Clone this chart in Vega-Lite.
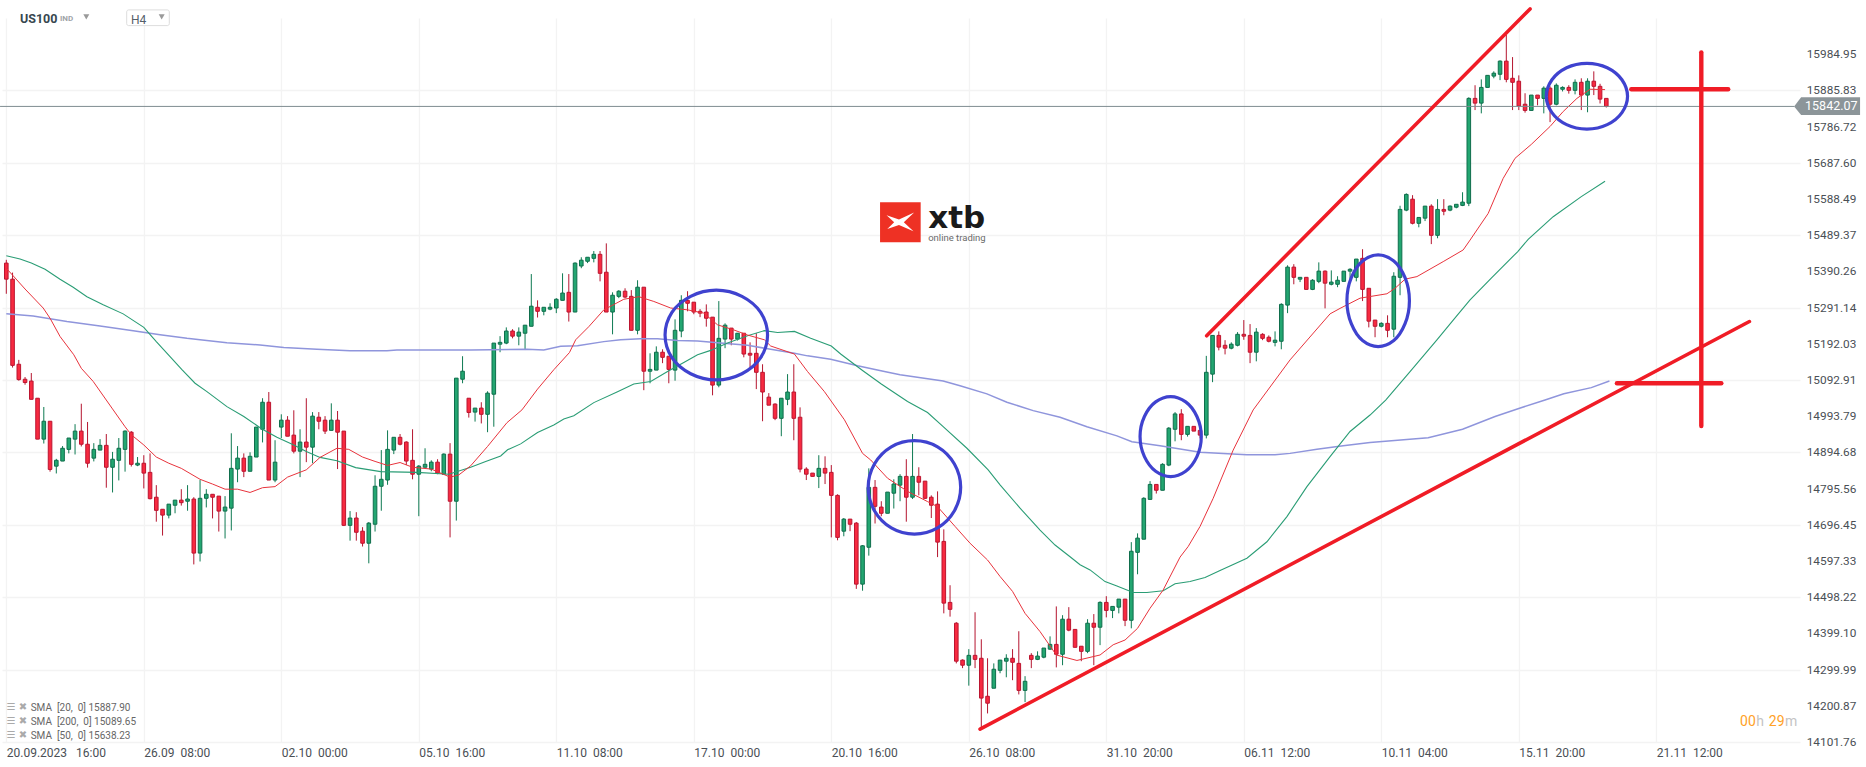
{"$schema":"https://vega.github.io/schema/vega-lite/v6.json","autosize":"none","padding":{"left":2,"top":18,"right":66,"bottom":25},"width":1798,"height":724,"background":"white","config":{"view":{"stroke":null},"font":"Roboto"},
"datasets":{
"candles":[
{"i":0,"o":15413,"c":15369,"h":15422,"l":15329},{"i":1,"o":15369,"c":15133,"h":15387,"l":15127},{"i":2,"o":15136,"c":15094,"h":15148,"l":15091},{"i":3,"o":15095,"c":15086,"h":15101,"l":15080},{"i":4,"o":15090,"c":15040,"h":15112,"l":15040},{"i":5,"o":15043,"c":14931,"h":15043,"l":14931},{"i":6,"o":14931,"c":14980,"h":15019,"l":14919},{"i":7,"o":14980,"c":14848,"h":14980,"l":14842},{"i":8,"o":14857,"c":14873,"h":14877,"l":14837},{"i":9,"o":14871,"c":14906,"h":14912,"l":14871},
{"i":10,"o":14903,"c":14934,"h":14934,"l":14892},{"i":11,"o":14931,"c":14953,"h":14972,"l":14889},{"i":12,"o":14953,"c":14917,"h":15028,"l":14911},{"i":13,"o":14917,"c":14865,"h":14978,"l":14853},{"i":14,"o":14879,"c":14903,"h":14920,"l":14870},{"i":15,"o":14901,"c":14914,"h":14931,"l":14901},{"i":16,"o":14914,"c":14854,"h":14945,"l":14798},{"i":17,"o":14854,"c":14876,"h":14896,"l":14785},{"i":18,"o":14873,"c":14906,"h":14934,"l":14818},{"i":19,"o":14903,"c":14953,"h":14955,"l":14842},
{"i":20,"o":14950,"c":14862,"h":14953,"l":14856},{"i":21,"o":14860,"c":14865,"h":14882,"l":14857},{"i":22,"o":14865,"c":14838,"h":14887,"l":14796},{"i":23,"o":14840,"c":14768,"h":14892,"l":14766},{"i":24,"o":14772,"c":14736,"h":14805,"l":14705},{"i":25,"o":14739,"c":14723,"h":14739,"l":14667},{"i":26,"o":14723,"c":14753,"h":14753,"l":14714},{"i":27,"o":14750,"c":14764,"h":14764,"l":14728},{"i":28,"o":14764,"c":14757,"h":14794,"l":14749},{"i":29,"o":14761,"c":14767,"h":14805,"l":14735},
{"i":30,"o":14767,"c":14619,"h":14772,"l":14588},{"i":31,"o":14619,"c":14769,"h":14819,"l":14596},{"i":32,"o":14769,"c":14780,"h":14794,"l":14744},{"i":33,"o":14780,"c":14772,"h":14780,"l":14714},{"i":34,"o":14775,"c":14734,"h":14775,"l":14678},{"i":35,"o":14734,"c":14745,"h":14775,"l":14659},{"i":36,"o":14742,"c":14851,"h":14947,"l":14681},{"i":37,"o":14849,"c":14879,"h":14912,"l":14813},{"i":38,"o":14879,"c":14843,"h":14892,"l":14827},{"i":39,"o":14843,"c":14884,"h":14895,"l":14843},
{"i":40,"o":14882,"c":14964,"h":14964,"l":14882},{"i":41,"o":14958,"c":15032,"h":15043,"l":14922},{"i":42,"o":15032,"c":14819,"h":15060,"l":14819},{"i":43,"o":14819,"c":14868,"h":14928,"l":14813},{"i":44,"o":14964,"c":14983,"h":14999,"l":14934},{"i":45,"o":14983,"c":14939,"h":14994,"l":14939},{"i":46,"o":14942,"c":14898,"h":15010,"l":14892},{"i":47,"o":14898,"c":14923,"h":14958,"l":14827},{"i":48,"o":14923,"c":14909,"h":15043,"l":14868},{"i":49,"o":14909,"c":14994,"h":15005,"l":14865},
{"i":50,"o":14991,"c":14980,"h":15005,"l":14958},{"i":51,"o":14983,"c":14953,"h":14994,"l":14945},{"i":52,"o":14955,"c":14983,"h":15029,"l":14955},{"i":53,"o":14983,"c":14950,"h":15008,"l":14849},{"i":54,"o":14953,"c":14695,"h":14953,"l":14693},{"i":55,"o":14695,"c":14715,"h":14734,"l":14653},{"i":56,"o":14715,"c":14676,"h":14731,"l":14653},{"i":57,"o":14679,"c":14646,"h":14690,"l":14637},{"i":58,"o":14646,"c":14701,"h":14704,"l":14591},{"i":59,"o":14698,"c":14802,"h":14832,"l":14678},
{"i":60,"o":14802,"c":14821,"h":14901,"l":14735},{"i":61,"o":14819,"c":14903,"h":14955,"l":14806},{"i":62,"o":14901,"c":14936,"h":14936,"l":14890},{"i":63,"o":14936,"c":14917,"h":14945,"l":14914},{"i":64,"o":14923,"c":14871,"h":14925,"l":14860},{"i":65,"o":14873,"c":14835,"h":14958,"l":14821},{"i":66,"o":14835,"c":14857,"h":14860,"l":14720},{"i":67,"o":14854,"c":14862,"h":14906,"l":14854},{"i":68,"o":14849,"c":14868,"h":14873,"l":14843},{"i":69,"o":14868,"c":14838,"h":14876,"l":14835},
{"i":70,"o":14835,"c":14890,"h":14892,"l":14835},{"i":71,"o":14890,"c":14761,"h":14920,"l":14662},{"i":72,"o":14761,"c":15098,"h":15098,"l":14708},{"i":73,"o":15095,"c":15117,"h":15158,"l":15084},{"i":74,"o":15043,"c":15004,"h":15043,"l":14990},{"i":75,"o":15005,"c":15016,"h":15016,"l":14979},{"i":76,"o":15016,"c":14999,"h":15032,"l":14974},{"i":77,"o":14999,"c":15057,"h":15062,"l":14950},{"i":78,"o":15054,"c":15194,"h":15194,"l":14965},{"i":79,"o":15191,"c":15196,"h":15213,"l":15169},
{"i":80,"o":15194,"c":15227,"h":15237,"l":15191},{"i":81,"o":15227,"c":15213,"h":15232,"l":15207},{"i":82,"o":15213,"c":15224,"h":15237,"l":15188},{"i":83,"o":15221,"c":15243,"h":15243,"l":15175},{"i":84,"o":15240,"c":15295,"h":15383,"l":15240},{"i":85,"o":15292,"c":15281,"h":15311,"l":15264},{"i":86,"o":15281,"c":15292,"h":15292,"l":15270},{"i":87,"o":15287,"c":15292,"h":15303,"l":15284},{"i":88,"o":15290,"c":15314,"h":15317,"l":15276},{"i":89,"o":15311,"c":15331,"h":15385,"l":15311},
{"i":90,"o":15333,"c":15279,"h":15383,"l":15253},{"i":91,"o":15279,"c":15413,"h":15415,"l":15279},{"i":92,"o":15405,"c":15421,"h":15429,"l":15399},{"i":93,"o":15418,"c":15429,"h":15429,"l":15413},{"i":94,"o":15426,"c":15437,"h":15446,"l":15415},{"i":95,"o":15437,"c":15385,"h":15446,"l":15363},{"i":96,"o":15388,"c":15279,"h":15467,"l":15279},{"i":97,"o":15279,"c":15325,"h":15333,"l":15218},{"i":98,"o":15322,"c":15336,"h":15339,"l":15317},{"i":99,"o":15336,"c":15320,"h":15344,"l":15317},
{"i":100,"o":15322,"c":15229,"h":15339,"l":15229},{"i":101,"o":15229,"c":15347,"h":15366,"l":15218},{"i":102,"o":15347,"c":15117,"h":15347,"l":15065},{"i":103,"o":15117,"c":15122,"h":15166,"l":15084},{"i":104,"o":15120,"c":15169,"h":15185,"l":15120},{"i":105,"o":15169,"c":15155,"h":15177,"l":15139},{"i":106,"o":15158,"c":15122,"h":15158,"l":15084},{"i":107,"o":15120,"c":15229,"h":15259,"l":15091},{"i":108,"o":15227,"c":15311,"h":15325,"l":15210},{"i":109,"o":15311,"c":15303,"h":15336,"l":15281},
{"i":110,"o":15306,"c":15279,"h":15306,"l":15273},{"i":111,"o":15281,"c":15276,"h":15287,"l":15265},{"i":112,"o":15279,"c":15262,"h":15300,"l":15239},{"i":113,"o":15265,"c":15079,"h":15265,"l":15051},{"i":114,"o":15079,"c":15207,"h":15309,"l":15073},{"i":115,"o":15205,"c":15243,"h":15248,"l":15180},{"i":116,"o":15235,"c":15205,"h":15235,"l":15188},{"i":117,"o":15205,"c":15221,"h":15221,"l":15201},{"i":118,"o":15221,"c":15164,"h":15221,"l":15155},{"i":119,"o":15166,"c":15161,"h":15196,"l":15128},
{"i":120,"o":15166,"c":15114,"h":15221,"l":15068},{"i":121,"o":15114,"c":15060,"h":15136,"l":14980},{"i":122,"o":15046,"c":15024,"h":15057,"l":15024},{"i":123,"o":15027,"c":14988,"h":15029,"l":14983},{"i":124,"o":14988,"c":15043,"h":15043,"l":14939},{"i":125,"o":15040,"c":15060,"h":15109,"l":15024},{"i":126,"o":15060,"c":14988,"h":15136,"l":14928},{"i":127,"o":14991,"c":14849,"h":15018,"l":14840},{"i":128,"o":14849,"c":14835,"h":14854,"l":14819},{"i":129,"o":14838,"c":14829,"h":14838,"l":14829},
{"i":130,"o":14829,"c":14851,"h":14887,"l":14797},{"i":131,"o":14851,"c":14838,"h":14884,"l":14808},{"i":132,"o":14840,"c":14777,"h":14860,"l":14662},{"i":133,"o":14777,"c":14662,"h":14780,"l":14654},{"i":134,"o":14679,"c":14712,"h":14715,"l":14665},{"i":135,"o":14712,"c":14698,"h":14712,"l":14679},{"i":136,"o":14701,"c":14534,"h":14704,"l":14521},{"i":137,"o":14534,"c":14639,"h":14641,"l":14516},{"i":138,"o":14635,"c":14799,"h":14851,"l":14612},{"i":139,"o":14799,"c":14747,"h":14819,"l":14700},
{"i":140,"o":14745,"c":14728,"h":14761,"l":14720},{"i":141,"o":14728,"c":14786,"h":14786,"l":14728},{"i":142,"o":14783,"c":14808,"h":14821,"l":14741},{"i":143,"o":14805,"c":14829,"h":14835,"l":14761},{"i":144,"o":14829,"c":14772,"h":14876,"l":14705},{"i":145,"o":14772,"c":14829,"h":14945,"l":14767},{"i":146,"o":14829,"c":14813,"h":14854,"l":14777},{"i":147,"o":14816,"c":14769,"h":14816,"l":14767},{"i":148,"o":14772,"c":14750,"h":14777,"l":14715},{"i":149,"o":14753,"c":14649,"h":14788,"l":14608},
{"i":150,"o":14651,"c":14482,"h":14684,"l":14454},{"i":151,"o":14484,"c":14465,"h":14531,"l":14445},{"i":152,"o":14427,"c":14323,"h":14430,"l":14317},{"i":153,"o":14326,"c":14312,"h":14328,"l":14304},{"i":154,"o":14312,"c":14339,"h":14356,"l":14256},{"i":155,"o":14339,"c":14328,"h":14457,"l":14304},{"i":156,"o":14331,"c":14222,"h":14383,"l":14137},{"i":157,"o":14227,"c":14208,"h":14331,"l":14180},{"i":158,"o":14249,"c":14301,"h":14317,"l":14249},{"i":159,"o":14298,"c":14326,"h":14326,"l":14290},
{"i":160,"o":14323,"c":14331,"h":14342,"l":14279},{"i":161,"o":14331,"c":14320,"h":14356,"l":14271},{"i":162,"o":14317,"c":14243,"h":14405,"l":14232},{"i":163,"o":14243,"c":14268,"h":14282,"l":14211},{"i":164,"o":14339,"c":14328,"h":14345,"l":14304},{"i":165,"o":14328,"c":14337,"h":14350,"l":14326},{"i":166,"o":14334,"c":14359,"h":14359,"l":14331},{"i":167,"o":14356,"c":14369,"h":14391,"l":14354},{"i":168,"o":14369,"c":14342,"h":14473,"l":14306},{"i":169,"o":14342,"c":14438,"h":14449,"l":14312},
{"i":170,"o":14438,"c":14408,"h":14471,"l":14405},{"i":171,"o":14410,"c":14361,"h":14410,"l":14361},{"i":172,"o":14364,"c":14350,"h":14364,"l":14323},{"i":173,"o":14350,"c":14427,"h":14438,"l":14345},{"i":174,"o":14427,"c":14416,"h":14452,"l":14312},{"i":175,"o":14416,"c":14484,"h":14487,"l":14367},{"i":176,"o":14484,"c":14462,"h":14501,"l":14443},{"i":177,"o":14462,"c":14473,"h":14473,"l":14441},{"i":178,"o":14471,"c":14493,"h":14493,"l":14454},{"i":179,"o":14493,"c":14435,"h":14493,"l":14419},
{"i":180,"o":14435,"c":14624,"h":14649,"l":14413},{"i":181,"o":14621,"c":14660,"h":14673,"l":14561},{"i":182,"o":14657,"c":14769,"h":14772,"l":14657},{"i":183,"o":14766,"c":14807,"h":14816,"l":14766},{"i":184,"o":14807,"c":14791,"h":14807,"l":14782},{"i":185,"o":14791,"c":14862,"h":14865,"l":14791},{"i":186,"o":14860,"c":14961,"h":14964,"l":14857},{"i":187,"o":14958,"c":15000,"h":15005,"l":14925},{"i":188,"o":15000,"c":14944,"h":15013,"l":14928},{"i":189,"o":14944,"c":14966,"h":14966,"l":14938},
{"i":190,"o":14966,"c":14953,"h":14966,"l":14953},{"i":191,"o":14955,"c":14942,"h":14955,"l":14933},{"i":192,"o":14942,"c":15114,"h":15159,"l":14933},{"i":193,"o":15109,"c":15215,"h":15215,"l":15087},{"i":194,"o":15215,"c":15183,"h":15226,"l":15174},{"i":195,"o":15188,"c":15180,"h":15202,"l":15163},{"i":196,"o":15180,"c":15191,"h":15196,"l":15177},{"i":197,"o":15188,"c":15218,"h":15224,"l":15185},{"i":198,"o":15218,"c":15213,"h":15257,"l":15203},{"i":199,"o":15215,"c":15169,"h":15246,"l":15139},
{"i":200,"o":15169,"c":15224,"h":15235,"l":15144},{"i":201,"o":15218,"c":15207,"h":15221,"l":15202},{"i":202,"o":15210,"c":15199,"h":15215,"l":15196},{"i":203,"o":15196,"c":15202,"h":15226,"l":15185},{"i":204,"o":15199,"c":15300,"h":15303,"l":15177},{"i":205,"o":15298,"c":15402,"h":15407,"l":15276},{"i":206,"o":15402,"c":15374,"h":15410,"l":15355},{"i":207,"o":15369,"c":15374,"h":15374,"l":15361},{"i":208,"o":15374,"c":15341,"h":15374,"l":15341},{"i":209,"o":15341,"c":15366,"h":15369,"l":15339},
{"i":210,"o":15363,"c":15391,"h":15415,"l":15358},{"i":211,"o":15391,"c":15358,"h":15393,"l":15289},{"i":212,"o":15355,"c":15361,"h":15393,"l":15352},{"i":213,"o":15355,"c":15366,"h":15377,"l":15347},{"i":214,"o":15363,"c":15391,"h":15391,"l":15363},{"i":215,"o":15391,"c":15396,"h":15399,"l":15363},{"i":216,"o":15374,"c":15424,"h":15424,"l":15363},{"i":217,"o":15426,"c":15341,"h":15451,"l":15309},{"i":218,"o":15344,"c":15254,"h":15344,"l":15237},{"i":219,"o":15257,"c":15240,"h":15257,"l":15210},
{"i":220,"o":15240,"c":15248,"h":15251,"l":15237},{"i":221,"o":15248,"c":15229,"h":15270,"l":15210},{"i":222,"o":15232,"c":15377,"h":15388,"l":15210},{"i":223,"o":15374,"c":15560,"h":15570,"l":15325},{"i":224,"o":15558,"c":15601,"h":15604,"l":15555},{"i":225,"o":15588,"c":15522,"h":15599,"l":15519},{"i":226,"o":15522,"c":15538,"h":15538,"l":15511},{"i":227,"o":15536,"c":15569,"h":15569,"l":15528},{"i":228,"o":15569,"c":15489,"h":15574,"l":15465},{"i":229,"o":15489,"c":15560,"h":15588,"l":15481},
{"i":230,"o":15560,"c":15555,"h":15588,"l":15544},{"i":231,"o":15558,"c":15569,"h":15571,"l":15555},{"i":232,"o":15566,"c":15574,"h":15574,"l":15563},{"i":233,"o":15571,"c":15580,"h":15607,"l":15569},{"i":234,"o":15577,"c":15864,"h":15867,"l":15569},{"i":235,"o":15864,"c":15851,"h":15900,"l":15832},{"i":236,"o":15851,"c":15894,"h":15916,"l":15823},{"i":237,"o":15894,"c":15927,"h":15927,"l":15894},{"i":238,"o":15925,"c":15933,"h":15938,"l":15919},{"i":239,"o":15930,"c":15966,"h":15968,"l":15914},
{"i":240,"o":15966,"c":15916,"h":16038,"l":15908},{"i":241,"o":15919,"c":15908,"h":15977,"l":15832},{"i":242,"o":15911,"c":15843,"h":15927,"l":15832},{"i":243,"o":15848,"c":15831,"h":15878,"l":15825},{"i":244,"o":15831,"c":15873,"h":15873,"l":15831},{"i":245,"o":15873,"c":15864,"h":15873,"l":15845},{"i":246,"o":15864,"c":15892,"h":15897,"l":15823},{"i":247,"o":15892,"c":15848,"h":15897,"l":15799},{"i":248,"o":15848,"c":15900,"h":15905,"l":15845},{"i":249,"o":15889,"c":15894,"h":15897,"l":15883},
{"i":250,"o":15894,"c":15886,"h":15900,"l":15877},{"i":251,"o":15886,"c":15908,"h":15916,"l":15875},{"i":252,"o":15908,"c":15873,"h":15919,"l":15832},{"i":253,"o":15873,"c":15911,"h":15919,"l":15826},{"i":254,"o":15911,"c":15897,"h":15938,"l":15873},{"i":255,"o":15897,"c":15862,"h":15904,"l":15850},{"i":256,"o":15864,"c":15842,"h":15864,"l":15839}],
"sma20":[{"i":0,"v":15399},{"i":3,"v":15342},{"i":5.9,"v":15290},{"i":7,"v":15262},{"i":8.6,"v":15212},{"i":10.8,"v":15162},{"i":12,"v":15125},{"i":13.9,"v":15089},{"i":16.9,"v":15016},{"i":19,"v":14965},{"i":20,"v":14943},{"i":22,"v":14915},{"i":24,"v":14882},{"i":26,"v":14865},{"i":28,"v":14851},{"i":31,"v":14821},{"i":33,"v":14808},{"i":35,"v":14794},{"i":37,"v":14794},{"i":39,"v":14785},{"i":41,"v":14798},{"i":43,"v":14801},{"i":45,"v":14827},{"i":48,"v":14847},{"i":50.2,"v":14881},{"i":52.9,"v":14906},{"i":54.8,"v":14903},{"i":57,"v":14882},{"i":59,"v":14870},{"i":61,"v":14859},{"i":63,"v":14867},{"i":65,"v":14854},{"i":68,"v":14849},{"i":71,"v":14827},{"i":72.4,"v":14833},{"i":74.3,"v":14858},{"i":77,"v":14911},{"i":80.1,"v":14976},{"i":82.5,"v":15011},{"i":85,"v":15068},{"i":87.6,"v":15121},{"i":90.1,"v":15168},{"i":91.1,"v":15203},{"i":93.2,"v":15239},{"i":95.6,"v":15285},{"i":98.8,"v":15314},{"i":101.2,"v":15321},{"i":103.6,"v":15308},{"i":106.3,"v":15290},{"i":109,"v":15285},{"i":111.6,"v":15276},{"i":113.8,"v":15244},{"i":116.4,"v":15230},{"i":118.6,"v":15216},{"i":121.3,"v":15203},{"i":122.3,"v":15186},{"i":126.1,"v":15164},{"i":128.2,"v":15116},{"i":130.9,"v":15061},{"i":134.1,"v":14984},{"i":137,"v":14892},{"i":138.3,"v":14874},{"i":141,"v":14824},{"i":144.2,"v":14788},{"i":147.4,"v":14760},{"i":149,"v":14746},{"i":151.8,"v":14692},{"i":154.2,"v":14646},{"i":157,"v":14600},{"i":159,"v":14555},{"i":161,"v":14514},{"i":163,"v":14454},{"i":165.4,"v":14404},{"i":168,"v":14340},{"i":171.3,"v":14325},{"i":175,"v":14340},{"i":177.1,"v":14368},{"i":179,"v":14381},{"i":181,"v":14413},{"i":183,"v":14468},{"i":185.1,"v":14518},{"i":187.8,"v":14608},{"i":189.1,"v":14637},{"i":191,"v":14692},{"i":193.1,"v":14769},{"i":196.3,"v":14901},{"i":199.5,"v":15011},{"i":205.4,"v":15148},{"i":211.8,"v":15274},{"i":213.4,"v":15289},{"i":216.6,"v":15317},{"i":220.9,"v":15329},{"i":222.2,"v":15344},{"i":223.8,"v":15369},{"i":225.7,"v":15376},{"i":229.9,"v":15417},{"i":233.1,"v":15449},{"i":234.2,"v":15476},{"i":237.1,"v":15549},{"i":239.5,"v":15645},{"i":241.4,"v":15700},{"i":244,"v":15738},{"i":247,"v":15787},{"i":249.1,"v":15828},{"i":251.3,"v":15864},{"i":253.4,"v":15889},{"i":255.8,"v":15888}],
"sma50":[{"i":0,"v":15433},{"i":2.2,"v":15424},{"i":4,"v":15413},{"i":6.2,"v":15396},{"i":8.6,"v":15369},{"i":10.7,"v":15347},{"i":12.9,"v":15321},{"i":15.5,"v":15299},{"i":18.7,"v":15274},{"i":22,"v":15237},{"i":24,"v":15198},{"i":26.2,"v":15157},{"i":28.1,"v":15121},{"i":30.2,"v":15084},{"i":32.1,"v":15061},{"i":35.3,"v":15020},{"i":38,"v":14993},{"i":40.9,"v":14959},{"i":43.3,"v":14936},{"i":46,"v":14915},{"i":48,"v":14897},{"i":50.2,"v":14881},{"i":52.9,"v":14872},{"i":55.9,"v":14853},{"i":59.9,"v":14842},{"i":65.7,"v":14840},{"i":70.8,"v":14835},{"i":74.3,"v":14854},{"i":76.7,"v":14870},{"i":79.1,"v":14885},{"i":80.2,"v":14902},{"i":82.3,"v":14918},{"i":85,"v":14949},{"i":87.6,"v":14970},{"i":89.2,"v":14986},{"i":90.8,"v":14995},{"i":94,"v":15031},{"i":97.8,"v":15061},{"i":100.4,"v":15082},{"i":103.1,"v":15089},{"i":105.8,"v":15116},{"i":108.4,"v":15141},{"i":110.6,"v":15162},{"i":112.7,"v":15174},{"i":115.4,"v":15194},{"i":118.6,"v":15214},{"i":121.3,"v":15228},{"i":123.4,"v":15223},{"i":126.1,"v":15226},{"i":128.7,"v":15207},{"i":132,"v":15186},{"i":133.5,"v":15164},{"i":137,"v":15119},{"i":140,"v":15082},{"i":144.2,"v":15034},{"i":147.4,"v":15004},{"i":149.9,"v":14965},{"i":153.7,"v":14906},{"i":157.1,"v":14847},{"i":159,"v":14806},{"i":162.2,"v":14742},{"i":165.4,"v":14682},{"i":167.8,"v":14641},{"i":170.2,"v":14609},{"i":171.8,"v":14587},{"i":173.4,"v":14573},{"i":175.8,"v":14541},{"i":177.7,"v":14529},{"i":180.3,"v":14511},{"i":182.5,"v":14511},{"i":185.1,"v":14516},{"i":187,"v":14535},{"i":189.4,"v":14541},{"i":191.8,"v":14552},{"i":194.2,"v":14571},{"i":198.5,"v":14605},{"i":201.7,"v":14650},{"i":204.9,"v":14719},{"i":208.1,"v":14801},{"i":211.8,"v":14883},{"i":215,"v":14952},{"i":218.2,"v":14997},{"i":220.7,"v":15038},{"i":224.6,"v":15116},{"i":228.9,"v":15203},{"i":232,"v":15267},{"i":234.2,"v":15312},{"i":237.6,"v":15372},{"i":241.8,"v":15444},{"i":243.5,"v":15478},{"i":247.5,"v":15540},{"i":252,"v":15595},{"i":255.8,"v":15637}],
"sma200":[{"i":0,"v":15274},{"i":4.3,"v":15268},{"i":9.7,"v":15253},{"i":15,"v":15241},{"i":20.3,"v":15228},{"i":24.6,"v":15217},{"i":28.9,"v":15207},{"i":31,"v":15203},{"i":35.3,"v":15195},{"i":40.6,"v":15189},{"i":44.4,"v":15182},{"i":49.7,"v":15177},{"i":55,"v":15173},{"i":60.9,"v":15173},{"i":62.5,"v":15175},{"i":74.3,"v":15175},{"i":83.3,"v":15177},{"i":86,"v":15175},{"i":88.7,"v":15185},{"i":91.4,"v":15187},{"i":95.6,"v":15198},{"i":98.3,"v":15203},{"i":101.5,"v":15206},{"i":104.2,"v":15206},{"i":107.4,"v":15201},{"i":110.6,"v":15200},{"i":114.3,"v":15194},{"i":118.6,"v":15188},{"i":122.3,"v":15177},{"i":126.1,"v":15166},{"i":128.2,"v":15159},{"i":131.9,"v":15150},{"i":136.2,"v":15132},{"i":140.5,"v":15116},{"i":143,"v":15107},{"i":149.9,"v":15090},{"i":152.6,"v":15077},{"i":156.9,"v":15055},{"i":160.1,"v":15032},{"i":164.3,"v":15009},{"i":168.6,"v":14991},{"i":172.9,"v":14965},{"i":177.7,"v":14940},{"i":180.1,"v":14924},{"i":184.6,"v":14913},{"i":191,"v":14895},{"i":194.7,"v":14892},{"i":198.5,"v":14888},{"i":203,"v":14888},{"i":205.4,"v":14892},{"i":209.7,"v":14903},{"i":213.9,"v":14913},{"i":218.2,"v":14922},{"i":227.5,"v":14935},{"i":233,"v":14958},{"i":238.2,"v":14993},{"i":242,"v":15015},{"i":246.2,"v":15038},{"i":249.2,"v":15055},{"i":253.6,"v":15072},{"i":256.5,"v":15090}],
"ellipses":[{"e":1,"t":1,"i":121.8,"v":15216},{"e":1,"t":2,"i":120.7,"v":15278},{"e":1,"t":3,"i":117.7,"v":15322},{"e":1,"t":4,"i":113.6,"v":15339},{"e":1,"t":5,"i":109.5,"v":15322},{"e":1,"t":6,"i":106.5,"v":15278},{"e":1,"t":7,"i":105.4,"v":15216},{"e":1,"t":8,"i":106.5,"v":15154},{"e":1,"t":9,"i":109.5,"v":15110},{"e":1,"t":10,"i":113.6,"v":15093},{"e":1,"t":11,"i":117.7,"v":15110},{"e":1,"t":12,"i":120.7,"v":15154},
{"e":2,"t":1,"i":152.7,"v":14799},{"e":2,"t":2,"i":151.7,"v":14863},{"e":2,"t":3,"i":149,"v":14910},{"e":2,"t":4,"i":145.3,"v":14927},{"e":2,"t":5,"i":141.6,"v":14910},{"e":2,"t":6,"i":138.9,"v":14863},{"e":2,"t":7,"i":137.9,"v":14799},{"e":2,"t":8,"i":138.9,"v":14735},{"e":2,"t":9,"i":141.6,"v":14688},{"e":2,"t":10,"i":145.3,"v":14671},{"e":2,"t":11,"i":149,"v":14688},{"e":2,"t":12,"i":151.7,"v":14735},
{"e":3,"t":1,"i":191.2,"v":14938},{"e":3,"t":2,"i":190.5,"v":14993},{"e":3,"t":3,"i":188.7,"v":15033},{"e":3,"t":4,"i":186.3,"v":15047.5},{"e":3,"t":5,"i":183.9,"v":15033},{"e":3,"t":6,"i":182.1,"v":14993},{"e":3,"t":7,"i":181.4,"v":14938},{"e":3,"t":8,"i":182.1,"v":14883},{"e":3,"t":9,"i":183.9,"v":14843},{"e":3,"t":10,"i":186.3,"v":14828.5},{"e":3,"t":11,"i":188.7,"v":14843},{"e":3,"t":12,"i":190.5,"v":14883},
{"e":4,"t":1,"i":224.5,"v":15310},{"e":4,"t":2,"i":223.8,"v":15373},{"e":4,"t":3,"i":222,"v":15419},{"e":4,"t":4,"i":219.5,"v":15435.5},{"e":4,"t":5,"i":217,"v":15419},{"e":4,"t":6,"i":215.2,"v":15373},{"e":4,"t":7,"i":214.5,"v":15310},{"e":4,"t":8,"i":215.2,"v":15247},{"e":4,"t":9,"i":217,"v":15201},{"e":4,"t":10,"i":219.5,"v":15184.5},{"e":4,"t":11,"i":222,"v":15201},{"e":4,"t":12,"i":223.8,"v":15247},
{"e":5,"t":1,"i":259.4,"v":15870},{"e":5,"t":2,"i":258.5,"v":15915},{"e":5,"t":3,"i":256.15,"v":15948},{"e":5,"t":4,"i":252.9,"v":15960},{"e":5,"t":5,"i":249.65,"v":15948},{"e":5,"t":6,"i":247.3,"v":15915},{"e":5,"t":7,"i":246.4,"v":15870},{"e":5,"t":8,"i":247.3,"v":15825},{"e":5,"t":9,"i":249.65,"v":15792},{"e":5,"t":10,"i":252.9,"v":15780},{"e":5,"t":11,"i":256.15,"v":15792},{"e":5,"t":12,"i":258.5,"v":15825}],
"trend":[{"s":"upper","t":1,"i":192.06,"v":15214},{"s":"upper","t":2,"i":243.8,"v":16109},{"s":"lower","t":1,"i":155.8,"v":14137},{"s":"lower","t":2,"i":278.9,"v":15253}],
"cross":[{"s":"vertical","t":1,"i":271.2,"v":15990},{"s":"vertical","t":2,"i":271.2,"v":14967},{"s":"top","t":1,"i":260,"v":15889},{"s":"top","t":2,"i":275.5,"v":15889},{"s":"bottom","t":1,"i":257.7,"v":15084},{"s":"bottom","t":2,"i":274.4,"v":15084}],
"priceLabels":[{"i":288.07,"v":14101.76,"label":"14101.76"},{"i":288.07,"v":14200.87,"label":"14200.87"},{"i":288.07,"v":14299.99,"label":"14299.99"},{"i":288.07,"v":14399.10,"label":"14399.10"},{"i":288.07,"v":14498.22,"label":"14498.22"},{"i":288.07,"v":14597.33,"label":"14597.33"},{"i":288.07,"v":14696.45,"label":"14696.45"},{"i":288.07,"v":14795.56,"label":"14795.56"},{"i":288.07,"v":14894.68,"label":"14894.68"},{"i":288.07,"v":14993.79,"label":"14993.79"},{"i":288.07,"v":15092.91,"label":"15092.91"},{"i":288.07,"v":15192.03,"label":"15192.03"},{"i":288.07,"v":15291.14,"label":"15291.14"},{"i":288.07,"v":15390.26,"label":"15390.26"},{"i":288.07,"v":15489.37,"label":"15489.37"},{"i":288.07,"v":15588.49,"label":"15588.49"},{"i":288.07,"v":15687.60,"label":"15687.60"},{"i":288.07,"v":15786.72,"label":"15786.72"},{"i":288.07,"v":15885.83,"label":"15885.83"},{"i":288.07,"v":15984.95,"label":"15984.95"}]
},
"layer":[
{"data":{"name":"candles"},"mark":{"type":"rule","strokeWidth":1},"encoding":{"x":{"field":"i","type":"quantitative","scale":{"domain":[-0.688,286.992],"nice":false,"zero":false,"padding":0},"axis":{"title":null,"values":[0,22,44,66,88,110,132,154,176,198,220,242,264],"labelExpr":"['20.09.2023\u00a0\u00a0\u00a016:00','26.09\u00a0\u00a008:00','02.10\u00a0\u00a000:00','05.10\u00a0\u00a016:00','11.10\u00a0\u00a008:00','17.10\u00a0\u00a000:00','20.10\u00a0\u00a016:00','26.10\u00a0\u00a008:00','31.10\u00a0\u00a020:00','06.11\u00a0\u00a012:00','10.11\u00a0\u00a004:00','15.11\u00a0\u00a020:00','21.11\u00a0\u00a012:00'][datum.value/22]","labelAlign":"left","labelBaseline":"top","labelPadding":5,"labelFont":"Roboto","labelFontSize":12,"labelColor":"#4a4f55","labelOverlap":false,"labelFlush":false,"labelBound":false,"ticks":false,"domain":false,"grid":true,"gridColor":"#f3f3f3","gridWidth":1.3}},"y":{"field":"l","type":"quantitative","scale":{"domain":[14101.76,16084.07],"nice":false,"zero":false},"axis":{"title":null,"orient":"right","values":[14101.76,14200.87,14299.99,14399.10,14498.22,14597.33,14696.45,14795.56,14894.68,14993.79,15092.91,15192.03,15291.14,15390.26,15489.37,15588.49,15687.60,15786.72,15885.83,15984.95],"labels":false,"ticks":false,"domain":false,"grid":true,"gridColor":"#f3f3f3","gridWidth":1.3}},"y2":{"field":"h"},"color":{"condition":{"test":"datum.c<datum.o","value":"#b5152f"},"value":"#0e7a52"}}},
{"data":{"name":"candles"},"mark":{"type":"bar","width":3.6,"orient":"vertical","strokeWidth":1},"encoding":{"x":{"field":"i","type":"quantitative"},"y":{"field":"o","type":"quantitative"},"y2":{"field":"c"},"fill":{"condition":{"test":"datum.c<datum.o","value":"#f72a40"},"value":"#23a671"},"stroke":{"condition":{"test":"datum.c<datum.o","value":"#bb1530"},"value":"#0f6e4c"}}},
{"data":{"name":"sma200"},"mark":{"type":"line","stroke":"#8f95dc","strokeWidth":1.5},"encoding":{"x":{"field":"i","type":"quantitative"},"y":{"field":"v","type":"quantitative"}}},
{"data":{"name":"sma50"},"mark":{"type":"line","stroke":"#2a9d75","strokeWidth":1.1},"encoding":{"x":{"field":"i","type":"quantitative"},"y":{"field":"v","type":"quantitative"}}},
{"data":{"name":"sma20"},"mark":{"type":"line","stroke":"#e8333c","strokeWidth":1},"encoding":{"x":{"field":"i","type":"quantitative"},"y":{"field":"v","type":"quantitative"}}},
{"data":{"values":[{"i":-1,"v":15842},{"i":286.1,"v":15842}]},"mark":{"type":"line","stroke":"#7f8c90","strokeWidth":1},"encoding":{"x":{"field":"i","type":"quantitative"},"y":{"field":"v","type":"quantitative"}}},
{"data":{"name":"ellipses"},"mark":{"type":"line","stroke":"#3f42cf","strokeWidth":3.2,"interpolate":"catmull-rom-closed"},"encoding":{"x":{"field":"i","type":"quantitative"},"y":{"field":"v","type":"quantitative"},"detail":{"field":"e"},"order":{"field":"t"}}},
{"data":{"name":"trend"},"mark":{"type":"line","stroke":"#f01c26","strokeWidth":3.6,"strokeCap":"round"},"encoding":{"x":{"field":"i","type":"quantitative"},"y":{"field":"v","type":"quantitative"},"detail":{"field":"s"},"order":{"field":"t"}}},
{"data":{"name":"cross"},"mark":{"type":"line","stroke":"#f01c26","strokeWidth":4.4,"strokeCap":"round"},"encoding":{"x":{"field":"i","type":"quantitative"},"y":{"field":"v","type":"quantitative"},"detail":{"field":"s"},"order":{"field":"t"}}},
{"data":{"name":"priceLabels"},"mark":{"type":"text","align":"left","baseline":"middle","font":"Roboto","fontSize":11.8,"fill":"#4a4f55"},"encoding":{"x":{"field":"i","type":"quantitative"},"y":{"field":"v","type":"quantitative"},"text":{"field":"label"}}},
{"data":{"values":[{"i":286.05,"top":15842,"bottom":15842},{"i":287.17,"top":15867.2,"bottom":15818.7},{"i":296.6,"top":15867.2,"bottom":15818.7}]},"mark":{"type":"area","fill":"#8c9599"},"encoding":{"x":{"field":"i","type":"quantitative"},"y":{"field":"top","type":"quantitative"},"y2":{"field":"bottom"}}},
{"data":{"values":[{"i":287.8,"v":15843,"label":"15842.07"}]},"mark":{"type":"text","align":"left","baseline":"middle","font":"Roboto","fontSize":12.5,"fill":"white"},"encoding":{"x":{"field":"i","type":"quantitative"},"y":{"field":"v","type":"quantitative"},"text":{"field":"label"}}},
{"data":{"values":[{"i":139.8,"i2":146.3,"v":15579.7,"v2":15470.2}]},"mark":{"type":"rect","fill":"#ee3124"},"encoding":{"x":{"field":"i","type":"quantitative"},"x2":{"field":"i2"},"y":{"field":"v","type":"quantitative"},"y2":{"field":"v2"}}},
{"data":{"values":[{"i":143.05,"v":15525}]},"mark":{"type":"point","filled":true,"fill":"white","opacity":1,"size":760,"shape":"M-1,-0.5 L-0.1,-0.2 L1,-0.7 L0.25,0 L0.95,0.65 L-0.1,0.2 L-0.95,0.5 L-0.45,0 Z"},"encoding":{"x":{"field":"i","type":"quantitative"},"y":{"field":"v","type":"quantitative"}}},
{"data":{"values":[{"i":147.5,"v":15508,"label":"xtb"}]},"mark":{"type":"text","align":"left","baseline":"alphabetic","font":"DejaVu Sans","fontWeight":"bold","fontSize":31,"fill":"#1a1a1a"},"encoding":{"x":{"field":"i","type":"quantitative"},"y":{"field":"v","type":"quantitative"},"text":{"field":"label"}}},
{"data":{"values":[{"i":147.5,"v":15482,"label":"online trading"}]},"mark":{"type":"text","align":"left","baseline":"middle","font":"Roboto","fontSize":9.5,"fill":"#6a6a6a"},"encoding":{"x":{"field":"i","type":"quantitative"},"y":{"field":"v","type":"quantitative"},"text":{"field":"label"}}},
{"data":{"values":[{"i":2.19,"v":16081.6,"label":"US100"}]},"mark":{"type":"text","align":"left","baseline":"middle","font":"Roboto","fontWeight":"bold","fontSize":12.5,"fill":"#37474f"},"encoding":{"x":{"field":"i","type":"quantitative"},"y":{"field":"v","type":"quantitative"},"text":{"field":"label"}}},
{"data":{"values":[{"i":8.59,"v":16081.6,"label":"IND"}]},"mark":{"type":"text","align":"left","baseline":"middle","font":"Roboto","fontSize":8,"fontWeight":"bold","fill":"#a0a4a8"},"encoding":{"x":{"field":"i","type":"quantitative"},"y":{"field":"v","type":"quantitative"},"text":{"field":"label"}}},
{"data":{"values":[{"i":19.26,"i2":26.08,"v":16106.2,"v2":16063.2}]},"mark":{"type":"rect","fill":"white","stroke":"#dddddd","strokeWidth":1,"cornerRadius":2},"encoding":{"x":{"field":"i","type":"quantitative"},"x2":{"field":"i2"},"y":{"field":"v","type":"quantitative"},"y2":{"field":"v2"}}},
{"data":{"values":[{"i":19.95,"v":16078.8,"label":"H4"}]},"mark":{"type":"text","align":"left","baseline":"middle","font":"Roboto","fontSize":12,"fill":"#55606a"},"encoding":{"x":{"field":"i","type":"quantitative"},"y":{"field":"v","type":"quantitative"},"text":{"field":"label"}}},
{"data":{"values":[{"i":12.8,"v":16087},{"i":24.86,"v":16087}]},"mark":{"type":"point","shape":"triangle-down","filled":true,"fill":"#9a9a9a","opacity":1,"size":36},"encoding":{"x":{"field":"i","type":"quantitative"},"y":{"field":"v","type":"quantitative"}}},
{"data":{"values":[{"i":3.9,"v":14194.2,"label":"SMA\u00a0\u00a0[20,\u00a0\u00a00] 15887.90"},{"i":3.9,"v":14156.7,"label":"SMA\u00a0\u00a0[200,\u00a0\u00a00] 15089.65"},{"i":3.9,"v":14119.3,"label":"SMA\u00a0\u00a0[50,\u00a0\u00a00] 15638.23"}]},"mark":{"type":"text","align":"left","baseline":"middle","font":"Roboto","fontSize":10,"fill":"#666666"},"encoding":{"x":{"field":"i","type":"quantitative"},"y":{"field":"v","type":"quantitative"},"text":{"field":"label"}}},
{"data":{"values":[{"i":0.75,"v":14197,"label":"☰"},{"i":0.75,"v":14159.5,"label":"☰"},{"i":0.75,"v":14122,"label":"☰"},{"i":2.67,"v":14197,"label":"✖"},{"i":2.67,"v":14159.5,"label":"✖"},{"i":2.67,"v":14122,"label":"✖"}]},"mark":{"type":"text","align":"center","baseline":"middle","font":"DejaVu Sans","fontSize":10,"fill":"#aaaaaa"},"encoding":{"x":{"field":"i","type":"quantitative"},"y":{"field":"v","type":"quantitative"},"text":{"field":"label"}}},
{"data":{"values":[{"i":277.4,"v":14156.8,"label":"00"},{"i":282,"v":14156.8,"label":"29"}]},"mark":{"type":"text","align":"left","baseline":"middle","font":"Roboto","fontSize":14,"fill":"#ffa126"},"encoding":{"x":{"field":"i","type":"quantitative"},"y":{"field":"v","type":"quantitative"},"text":{"field":"label"}}},
{"data":{"values":[{"i":280,"v":14156.8,"label":"h"},{"i":284.6,"v":14156.8,"label":"m"}]},"mark":{"type":"text","align":"left","baseline":"middle","font":"Roboto","fontSize":14,"fill":"#c4c4c4"},"encoding":{"x":{"field":"i","type":"quantitative"},"y":{"field":"v","type":"quantitative"},"text":{"field":"label"}}}
]}
